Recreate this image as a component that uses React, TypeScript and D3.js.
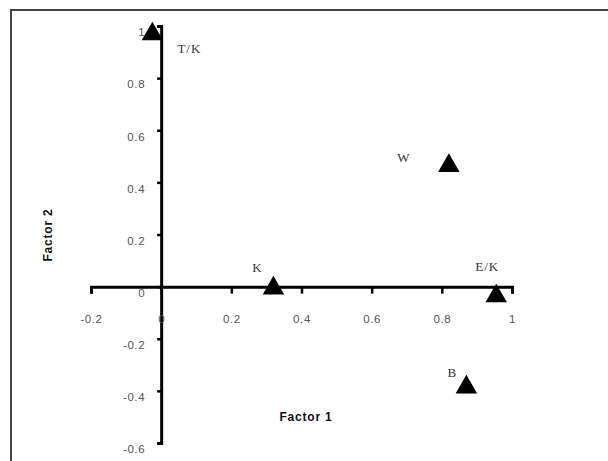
import React, { useEffect, useRef } from 'react';
import * as d3 from 'd3';

const labels = ['T/K', 'W', 'K', 'E/K', 'B'];
const factor1 = [-0.025, 0.82, 0.32, 0.955, 0.87];
const factor2 = [0.965, 0.46, -0.01, -0.04, -0.39];
const xTicks = [-0.2, 0, 0.2, 0.4, 0.6, 0.8, 1];
const yTicks = [-0.6, -0.4, -0.2, 0, 0.2, 0.4, 0.6, 0.8, 1];

// hand-placed label offsets (dx, dy) relative to the marker
const labelOffsets = [
  [37, 13],
  [-45, -9],
  [-16, -22],
  [-9, -31],
  [-14, -16],
];

export default function App() {
  const ref = useRef<SVGSVGElement>(null);

  useEffect(() => {
    const width = 608;
    const height = 461;
    const svg = d3.select(ref.current);
    svg.selectAll('*').remove();

    svg.append('rect').attr('width', width).attr('height', height).attr('fill', '#fff');

    // outer frame (only left and top edges visible)
    svg
      .append('path')
      .attr('d', 'M11,470V10H620')
      .attr('fill', 'none')
      .attr('stroke', '#444')
      .attr('stroke-width', 2);

    const x = d3.scaleLinear().domain([-0.2, 1]).range([91, 512]);
    const y = d3.scaleLinear().domain([-0.6, 1]).range([443, 26]);

    const fmt = (d: any) => String(+d);

    const yAxis = svg
      .append('g')
      .attr('transform', `translate(${x(0)},0)`)
      .call(d3.axisLeft(y).tickValues(yTicks).tickSize(4).tickSizeOuter(4).tickPadding(12).tickFormat(fmt));

    const xAxis = svg
      .append('g')
      .attr('transform', `translate(0,${y(0)})`)
      .call(d3.axisBottom(x).tickValues(xTicks).tickSize(7).tickSizeOuter(7).tickPadding(21).tickFormat(fmt));

    [xAxis, yAxis].forEach((g) => {
      g.select('.domain').attr('stroke', '#000').attr('stroke-width', 3);
      g.selectAll('.tick line').attr('stroke', '#000').attr('stroke-width', 2.5);
      g.selectAll('.tick text')
        .attr('fill', '#555')
        .style('font-family', 'Liberation Sans, Arial, sans-serif')
        .style('font-size', '11.5px')
        .style('letter-spacing', '0.6px');
    });
    yAxis.selectAll('.tick text').attr('dy', '0.85em');

    // axis titles
    svg
      .append('text')
      .attr('x', 306)
      .attr('y', 421)
      .attr('text-anchor', 'middle')
      .style('font-family', 'Liberation Sans, Arial, sans-serif')
      .style('font-size', '12px')
      .style('font-weight', 'bold')
      .style('letter-spacing', '0.8px')
      .attr('fill', '#111')
      .text('Factor 1');

    svg
      .append('text')
      .attr('transform', 'translate(52,235) rotate(-90)')
      .attr('text-anchor', 'middle')
      .style('font-family', 'Liberation Sans, Arial, sans-serif')
      .style('font-size', '12px')
      .style('font-weight', 'bold')
      .style('letter-spacing', '0.8px')
      .attr('fill', '#111')
      .text('Factor 2');

    const data = labels.map((l, i) => ({ label: l, f1: factor1[i], f2: factor2[i], off: labelOffsets[i] }));

    const tri = d3.symbol().type(d3.symbolTriangle).size(200);

    svg
      .append('g')
      .selectAll('path')
      .data(data)
      .enter()
      .append('path')
      .attr('d', tri)
      .attr('transform', (d) => `translate(${x(d.f1)},${y(d.f2) - 1})`)
      .attr('fill', '#000');

    svg
      .append('g')
      .selectAll('text')
      .data(data)
      .enter()
      .append('text')
      .attr('x', (d) => x(d.f1) + d.off[0])
      .attr('y', (d) => y(d.f2) + d.off[1])
      .attr('dy', '0.35em')
      .attr('text-anchor', 'middle')
      .style('font-family', 'Liberation Serif, Times New Roman, serif')
      .style('font-size', '13px')
      .style('letter-spacing', '1px')
      .attr('fill', '#333')
      .text((d) => d.label);
  }, []);

  return (
    <svg
      ref={ref}
      width={608}
      height={461}
      style={{ position: 'absolute', left: 0, top: 0, display: 'block' }}
    />
  );
}
